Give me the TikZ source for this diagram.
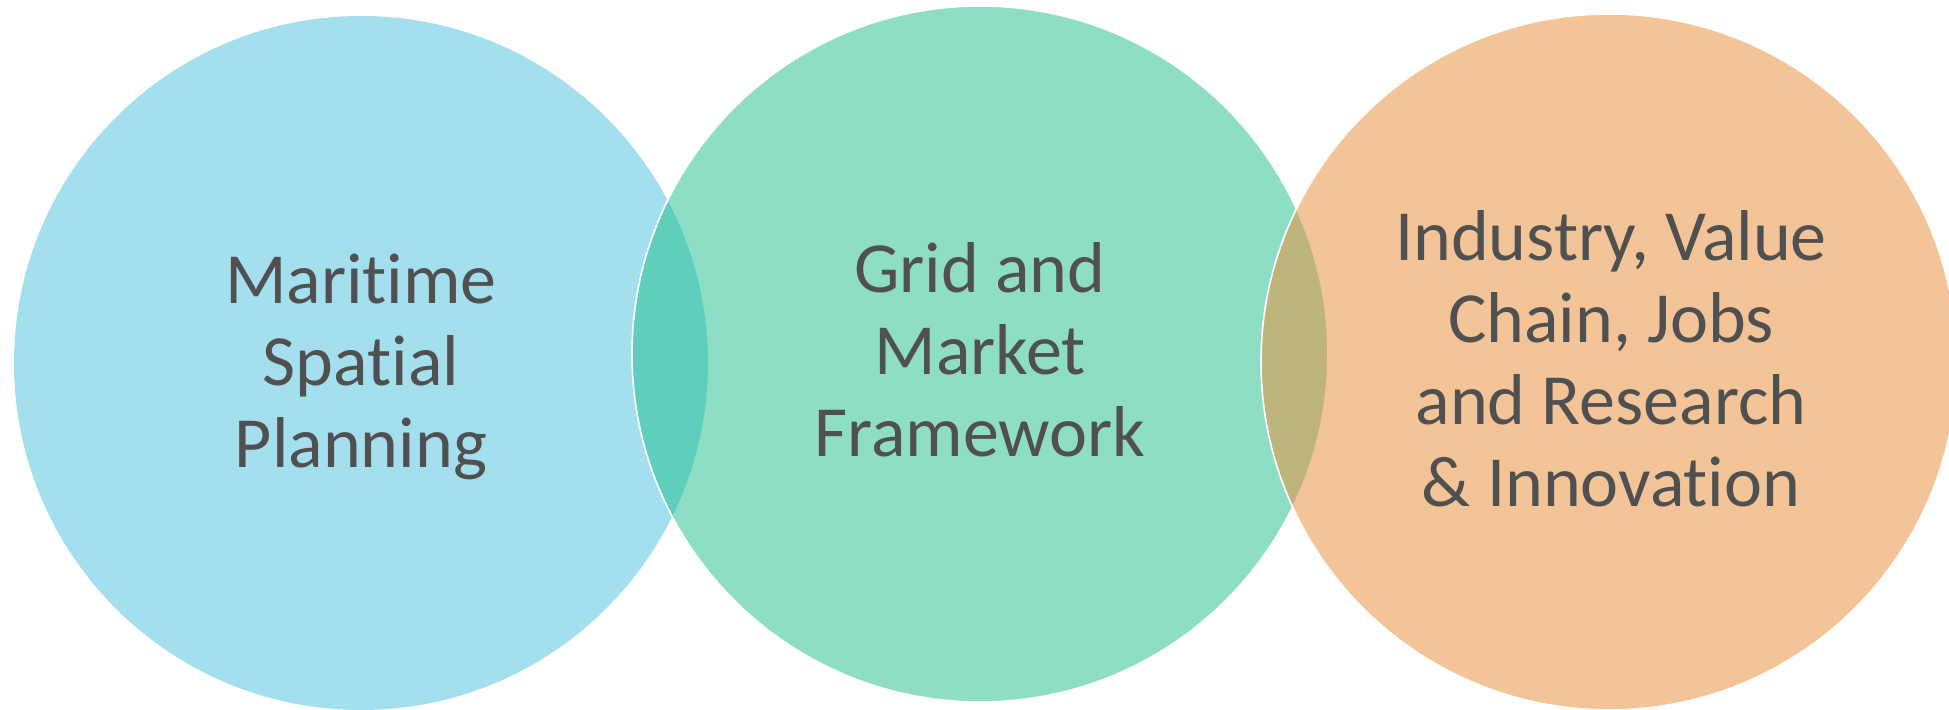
\documentclass[tikz,border=0pt]{standalone}
\usepackage{fontspec}
\setmainfont{Carlito}[Ligatures={NoCommon}]
\definecolor{cblue}{RGB}{73,193,221}
\definecolor{cgreen}{RGB}{31,191,141}
\definecolor{corange}{RGB}{232,147,63}
\definecolor{txtgray}{RGB}{80,80,80}
\tikzset{
  venn/.style={draw=white, line width=0.8pt},
  lbl/.style={align=center, text=txtgray, font=\fontsize{36}{41}\selectfont, inner sep=0pt}
}
\begin{document}
\begin{tikzpicture}[x=0.5pt,y=0.5pt]
\clip (0,0) rectangle (1949,710);
\fill[white] (0,0) rectangle (1949,710);
\fill[cblue, fill opacity=0.5] (361,347) circle (347);
\draw[venn, fill=cgreen, fill opacity=0.5] (980,356) circle (348);
\draw[venn, fill=corange, fill opacity=0.536] (1609,348) circle (348);
\node[lbl] (msp) at (361,343.5) {Maritime\\Spatial\\Planning};
\node[lbl] (gmf) at (980,360) {Grid and\\Market\\Framework};
\node[lbl] (ind) at (1611,351.7) {Industry, Value\\Chain, Jobs\\and Research\\\& Innovation};
\end{tikzpicture}
\end{document}
